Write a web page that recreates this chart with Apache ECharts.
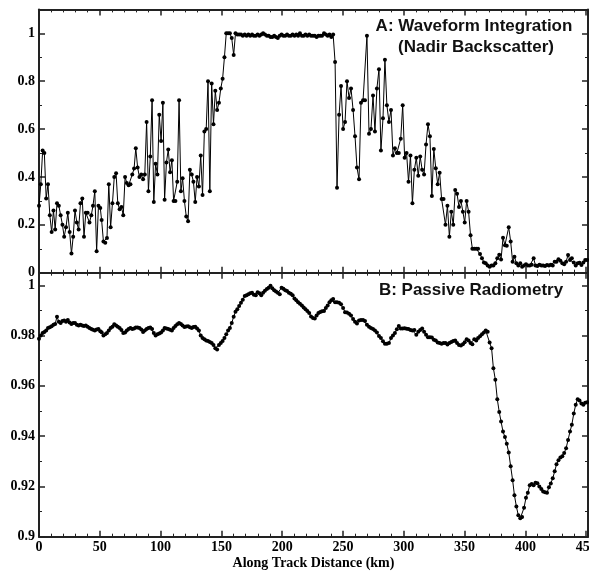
<!DOCTYPE html>
<html><head><meta charset="utf-8">
<script src="https://cdn.jsdelivr.net/npm/echarts@6/dist/echarts.min.js"></script>
<style>html,body{margin:0;padding:0;background:#fff}#c{width:589px;height:572px}</style>
</head><body><div id="c"></div>
<script>
// Along-track distance of each sample (km)
const distanceKm = [
0,1.5,3,4.4,5.9,7.4,8.9,10.4,11.9,13.3,14.8,16.3,17.8,19.3,20.7,22.2,23.7,25.2,26.7,28.1,29.6,31.1,32.6,34.1,35.6,37,38.5,40,41.5,43,44.4,45.9,47.4,48.9,50.4,
51.5,53,54.5,55.9,57.4,58.9,60.4,61.9,63.4,64.8,66.3,67.8,69.3,70.8,72.2,73.7,75.2,76.7,78.2,79.6,81.1,82.6,84.1,85.6,87,88.5,90,91.5,93,94.4,95.9,97.4,98.9,100.4,101.9,103.3,104.8,106.3,107.8,109.3,110.7,112.2,113.7,115.2,116.7,118.1,119.6,121.1,122.6,124.1,125.6,127,128.5,130,131.5,
133,134.5,136,137.5,139,140.5,142,143.5,145,146.5,148,149.5,151,152.5,
154,155.5,157,158.5,160.1,161.6,163.1,164.6,166.1,167.6,169.2,170.7,172.2,173.7,175.2,176.7,178.3,179.8,181.3,182.8,184.3,185.8,187.4,188.9,190.4,191.9,193.4,194.9,196.4,198,199.5,201,202.5,204,205.5,207.1,208.6,210.1,211.6,213.1,214.6,216.2,217.7,219.2,220.7,222.2,223.7,225.3,226.8,228.3,229.8,231.3,232.8,234.4,235.9,237.4,238.9,240.4,241.9,
243.5,245.1,246.8,248.4,250.1,251.7,253.3,255,256.6,258.3,259.9,261.5,263.2,264.8,266.5,268.1,269.7,271.4,273,274.7,276.3,277.9,279.6,281.2,282.9,284.5,286.1,287.8,
289.5,291.1,292.7,294.3,295.9,297.5,299.1,300.7,302.3,303.9,305.5,307.1,308.7,310.3,311.9,313.5,315.1,316.7,318.3,319.9,321.5,323.1,324.7,326.3,327.9,329.5,331.1,332.7,334.3,335.9,337.5,339.1,
340.7,342.3,343.8,345.4,347,348.6,350.1,351.7,353.3,354.9,356.4,358,359.6,361.1,362.7,364.3,365.9,367.4,369,370.6,372.2,373.7,375.3,376.9,378.5,380,381.6,383.2,384.7,386.3,387.9,389.5,391,392.6,394.2,395.8,397.3,398.9,400.5,402,403.6,405.2,406.8,408.3,409.9,411.5,413.1,414.6,416.2,417.8,419.4,420.9,422.5,424.1,425.6,427.2,428.8,430.4,431.9,433.5,435.1,436.7,438.2,439.8,441.4,443,444.5,446.1,447.7,449.2,450.8
];

// Panel A: waveform integration (nadir backscatter)
const backscatter = [
0.28,0.37,0.51,0.50,0.31,0.37,0.24,0.17,0.26,0.18,0.29,0.28,0.24,0.20,0.15,0.19,0.25,0.17,0.08,0.15,0.26,0.21,0.18,0.29,0.31,0.15,0.25,0.25,0.21,0.24,0.28,0.34,0.09,0.28,0.27,
0.22,0.13,0.125,0.145,0.37,0.19,0.29,0.40,0.415,0.29,0.265,0.275,0.24,0.40,0.375,0.365,0.37,0.41,0.435,0.52,0.44,0.40,0.41,0.39,0.41,0.63,0.34,0.485,0.72,0.295,0.455,0.41,0.66,0.55,0.71,0.305,0.46,0.515,0.42,0.47,0.30,0.30,0.38,0.72,0.34,0.395,0.30,0.235,0.215,0.43,0.41,0.38,0.295,0.40,0.36,
0.49,0.325,0.59,0.60,0.80,0.34,0.79,0.62,0.76,0.68,0.71,0.77,0.81,0.90,
1.00,1.00,1.00,0.98,0.91,1.00,0.995,0.995,0.995,0.99,0.995,0.99,0.995,0.99,0.995,0.99,0.99,0.995,0.99,0.995,1.0,0.995,0.99,0.99,0.985,0.985,0.99,0.985,0.98,0.99,0.995,0.99,0.99,0.995,0.99,0.99,0.995,0.99,0.995,0.99,1.0,0.99,0.99,0.995,0.99,0.995,0.99,0.99,0.99,0.985,0.99,0.99,0.99,1.0,0.995,0.99,0.995,0.985,0.995,
0.88,0.355,0.66,0.78,0.60,0.63,0.80,0.73,0.77,0.68,0.57,0.44,0.39,0.71,0.72,0.72,0.99,0.58,0.60,0.74,0.59,0.77,0.85,0.51,0.645,0.89,0.70,0.63,
0.68,0.49,0.52,0.50,0.50,0.56,0.70,0.48,0.50,0.38,0.49,0.29,0.43,0.48,0.405,0.485,0.43,0.41,0.536,0.62,0.57,0.32,0.517,0.436,0.37,0.418,0.308,0.308,0.20,0.28,0.15,0.255,
0.20,0.345,0.33,0.275,0.30,0.255,0.21,0.30,0.255,0.156,0.10,0.10,0.10,0.10,0.078,0.06,0.043,0.04,0.03,0.025,0.03,0.03,0.04,0.06,0.075,0.055,0.146,0.115,0.113,0.19,0.13,0.046,0.067,0.04,0.03,0.04,0.025,0.03,0.035,0.03,0.03,0.033,0.06,0.03,0.028,0.033,0.03,0.03,0.028,0.032,0.03,0.033,0.03,0.046,0.046,0.056,0.05,0.04,0.035,0.046,0.074,0.053,0.06,0.043,0.03,0.04,0.042,0.032,0.043,0.053,0.053
];

// Panel B: passive radiometry
const radiometry = [
0.9787,0.980,0.981,0.9814,0.982,0.983,0.9833,0.9837,0.9843,0.9846,0.9875,0.9855,0.985,0.9858,0.986,0.9855,0.9862,0.9852,0.9846,0.985,0.985,0.9843,0.984,0.9843,0.984,0.9838,0.984,0.9835,0.983,0.9826,0.9823,0.982,0.9824,0.9826,0.9817,
0.9813,0.980,0.9805,0.981,0.982,0.983,0.9835,0.9845,0.984,0.9835,0.983,0.9822,0.981,0.9812,0.982,0.9826,0.983,0.9826,0.9828,0.9832,0.9832,0.983,0.9824,0.9814,0.982,0.9826,0.983,0.9832,0.9826,0.981,0.980,0.9805,0.9808,0.9812,0.982,0.983,0.9828,0.9826,0.9823,0.982,0.983,0.9838,0.9845,0.985,0.9846,0.984,0.9834,0.9836,0.9837,0.9833,0.983,0.9834,0.9835,0.9828,0.982,
0.980,0.979,0.9785,0.978,0.9778,0.9774,0.977,0.9762,0.975,0.9745,0.9762,0.977,0.9778,0.979,
0.9805,0.982,0.983,0.985,0.9875,0.9895,0.9905,0.9918,0.993,0.9942,0.9957,0.996,0.9964,0.9968,0.997,0.9962,0.996,0.9972,0.9968,0.996,0.997,0.9978,0.9985,0.999,0.9998,0.9988,0.998,0.9975,0.997,0.9964,0.999,0.9986,0.998,0.9977,0.997,0.9966,0.996,0.9947,0.994,0.9932,0.9927,0.992,0.9912,0.9905,0.9898,0.989,0.9876,0.987,0.9868,0.988,0.989,0.9894,0.9897,0.9898,0.991,0.992,0.9932,0.994,0.9945,
0.9932,0.9932,0.993,0.9925,0.991,0.9893,0.9892,0.9887,0.988,0.9866,0.9855,0.9848,0.986,0.9862,0.9862,0.9858,0.9843,0.9835,0.983,0.9826,0.982,0.9812,0.9798,0.979,0.9777,0.9767,0.9767,0.977,
0.979,0.980,0.981,0.9825,0.9838,0.9828,0.9828,0.9829,0.9827,0.9826,0.9822,0.982,0.9822,0.9803,0.9815,0.9822,0.9828,0.9815,0.9803,0.9793,0.9793,0.9792,0.9783,0.978,0.9772,0.977,0.9767,0.977,0.977,0.9764,0.977,0.9774,
0.9778,0.978,0.977,0.9762,0.976,0.9765,0.9773,0.9785,0.978,0.977,0.9765,0.9785,0.978,0.979,0.9797,0.9805,0.9812,0.982,0.9815,0.9772,0.975,0.967,0.9624,0.9547,0.9496,0.9458,0.9418,0.9397,0.937,0.9335,0.928,0.9225,0.9165,0.912,0.9085,0.9073,0.9078,0.9115,0.9155,0.9175,0.9205,0.921,0.9205,0.9215,0.9213,0.92,0.919,0.918,0.9177,0.9175,0.9197,0.9212,0.9232,0.926,0.9288,0.9304,0.9315,0.932,0.9333,0.9352,0.9385,0.9418,0.9445,0.949,0.9525,0.9547,0.9542,0.953,0.9525,0.9533,0.9535
];

const panelTitlesA = ['A: Waveform Integration', '(Nadir Backscatter)'];
const panelTitleB = 'B: Passive Radiometry';
const xAxisTitle = 'Along Track Distance (km)';

const X_MAX = 451.5;
const AXIS_COLOR = '#222';
const serif = '"Liberation Serif","Times New Roman",serif';
const sans = '"Liberation Sans",Arial,Helvetica,sans-serif';
const labelStyle = {fontFamily: serif, fontWeight: 'bold', fontSize: 14, color: '#000'};

function stepFmt(step, digits) {
  return function (v) {
    const k = Math.round(v / step);
    return Math.abs(v - k * step) < 1e-7 ? String(+v.toFixed(digits)) : '';
  };
}

function xAx(grid, pos, withLabels) {
  const ax = {
    type: 'value', gridIndex: grid, position: pos, min: 0, max: X_MAX, interval: 50,
    axisLine: {show: true, onZero: false, lineStyle: {color: AXIS_COLOR, width: 2}},
    axisTick: {show: true, inside: true, length: 6, lineStyle: {color: AXIS_COLOR, width: 1.5}},
    minorTick: {show: true, splitNumber: 5, length: 3, lineStyle: {color: AXIS_COLOR, width: 1}},
    splitLine: {show: false}, minorSplitLine: {show: false},
    axisLabel: {show: false}
  };
  if (withLabels) {
    ax.axisLabel = Object.assign({show: true, margin: 4, formatter: stepFmt(50, 0)}, labelStyle);
    ax.name = xAxisTitle;
    ax.nameLocation = 'middle';
    ax.nameGap = 20;
    ax.nameTextStyle = {fontFamily: serif, fontWeight: 'bold', fontSize: 14, color: '#000'};
  }
  return ax;
}

function yAx(grid, pos, min, max, interval, digits, withLabels) {
  return {
    type: 'value', gridIndex: grid, position: pos, min: min, max: max, interval: interval,
    axisLine: {show: true, onZero: false, lineStyle: {color: AXIS_COLOR, width: 2}},
    axisTick: {show: true, inside: true, length: 6, lineStyle: {color: AXIS_COLOR, width: 1.5}},
    minorTick: {show: true, splitNumber: 2, length: 3, lineStyle: {color: AXIS_COLOR, width: 1}},
    splitLine: {show: false}, minorSplitLine: {show: false},
    axisLabel: withLabels ? Object.assign({show: true, margin: 4, formatter: stepFmt(interval, digits)}, labelStyle) : {show: false}
  };
}

const topData = distanceKm.map((d, i) => [d, backscatter[i]]);
const botData = distanceKm.map((d, i) => [d, radiometry[i]]);

const seriesStyle = {
  type: 'line', symbol: 'circle', symbolSize: 4, showAllSymbol: true,
  lineStyle: {color: '#000', width: 1}, itemStyle: {color: '#000'},
  emphasis: {disabled: true}, animation: false
};

const chart = echarts.init(document.getElementById('c'), null, {renderer: 'canvas'});
chart.setOption({
  animation: false,
  backgroundColor: '#fff',
  grid: [
    {left: 39, right: 1, top: 9.4, height: 263.3, containLabel: false, outerBoundsMode: 'none'},
    {left: 39, right: 1, top: 272.7, height: 264, containLabel: false, outerBoundsMode: 'none'}
  ],
  xAxis: [
    xAx(0, 'bottom', false),
    xAx(0, 'top', false),
    xAx(1, 'bottom', true),
    xAx(1, 'top', false)
  ],
  yAxis: [
    yAx(0, 'left', 0, 1.1, 0.2, 1, true),
    yAx(0, 'right', 0, 1.1, 0.2, 1, false),
    yAx(1, 'left', 0.9, 1.005, 0.02, 2, true),
    yAx(1, 'right', 0.9, 1.005, 0.02, 2, false)
  ],
  series: [
    Object.assign({name: 'Waveform Integration', xAxisIndex: 0, yAxisIndex: 0, data: topData}, seriesStyle),
    Object.assign({name: 'Passive Radiometry', xAxisIndex: 2, yAxisIndex: 2, data: botData}, seriesStyle)
  ],
  graphic: [
    {type: 'text', x: 474, y: 26, style: {text: panelTitlesA[0], font: 'bold 17px ' + sans, fill: '#111', align: 'center', verticalAlign: 'middle', textAlign: 'center', textVerticalAlign: 'middle'}},
    {type: 'text', x: 476, y: 47, style: {text: panelTitlesA[1], font: 'bold 17px ' + sans, fill: '#111', align: 'center', verticalAlign: 'middle', textAlign: 'center', textVerticalAlign: 'middle'}},
    {type: 'text', x: 471, y: 290, style: {text: panelTitleB, font: 'bold 17px ' + sans, fill: '#111', align: 'center', verticalAlign: 'middle', textAlign: 'center', textVerticalAlign: 'middle'}}
  ]
});
</script>
</body></html>
